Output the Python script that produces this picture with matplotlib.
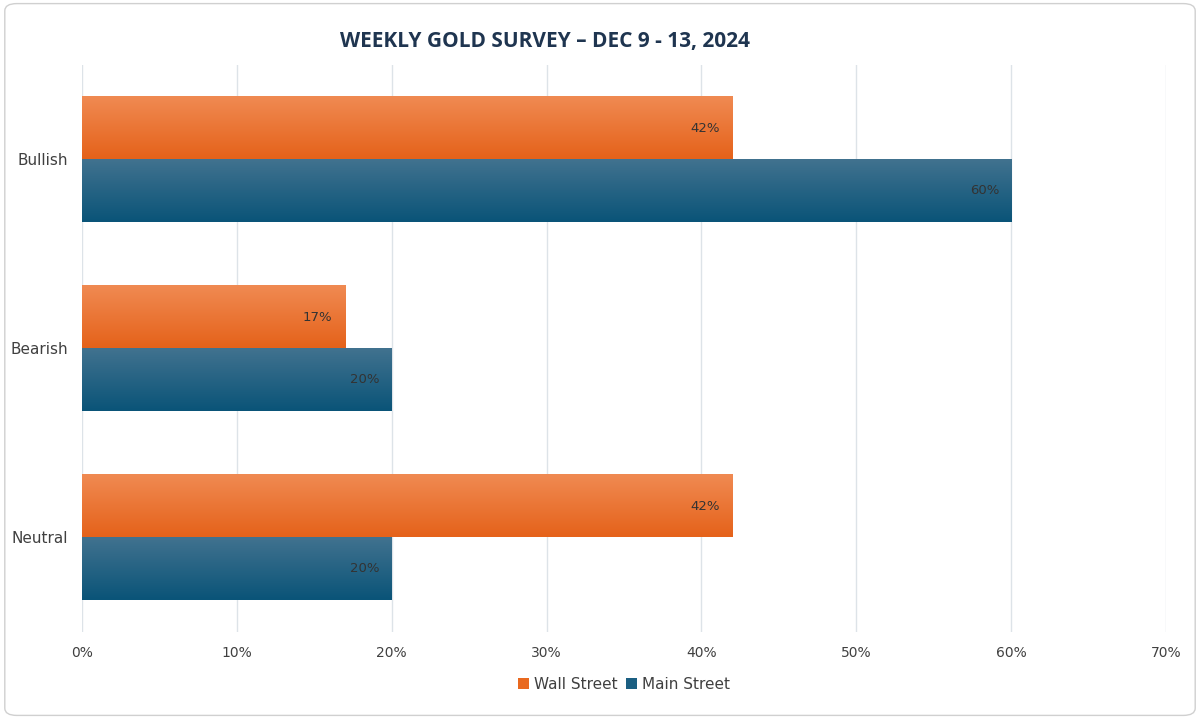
import numpy as np
import matplotlib.pyplot as plt
from matplotlib.colors import LinearSegmentedColormap
from matplotlib.patches import FancyBboxPatch

categories = ['Bullish', 'Bearish', 'Neutral']
wall_street = [42, 17, 42]
main_street = [60, 20, 20]
ticks = [0, 10, 20, 30, 40, 50, 60, 70]

fig = plt.figure(figsize=(12, 7.19), dpi=100)
ax = fig.add_axes([0.068, 0.121, 0.904, 0.789])

y = np.arange(len(categories))
h = 0.33
orange_cm = LinearSegmentedColormap.from_list('o', ['#f08a52', '#e5621a'])
blue_cm = LinearSegmentedColormap.from_list('b', ['#41728f', '#0a5478'])

def grad_bars(ypos, vals, cmap, label, color):
    bars = ax.barh(ypos, vals, height=h, color=color, label=label, zorder=2)
    grad = np.linspace(0, 1, 100).reshape(-1, 1)
    for b in bars:
        x0, y0 = b.get_x(), b.get_y()
        w, hh = b.get_width(), b.get_height()
        # y axis is inverted: top of bar is y0
        ax.imshow(grad, cmap=cmap, aspect='auto', zorder=3,
                  extent=[x0, x0 + w, y0 + hh, y0], origin='upper')
        ax.text(x0 + w - 0.8, y0 + hh / 2, f'{int(w)}%', ha='right', va='center',
                fontsize=9.5, color='#333333', zorder=4)
    return bars

grad_bars(y - h / 2, wall_street, orange_cm, 'Wall Street', '#e9691f')
grad_bars(y + h / 2, main_street, blue_cm, 'Main Street', '#1b5f82')

ax.set_xlim(0, 70)
ax.set_ylim(2.5, -0.5)
ax.set_xticks(ticks)
ax.set_xticklabels([f'{t}%' for t in ticks], fontsize=10, color='#404040')
ax.set_yticks(y)
ax.set_yticklabels(categories, fontsize=11, color='#404040')
ax.tick_params(length=0, pad=10)
ax.grid(axis='x', color='#dde3e8', linewidth=1, zorder=0)
for s in ax.spines.values():
    s.set_visible(False)

fig.text(0.454, 0.942, 'WEEKLY GOLD SURVEY – DEC 9 - 13, 2024', ha='center', va='center',
         fontsize=15, fontweight='bold', color='#1f3550', family='Open Sans')
ax.legend(loc='upper center', bbox_to_anchor=(0.5, -0.055), ncol=2, frameon=False,
          fontsize=11, handlelength=0.7, handleheight=0.7, handletextpad=0.3,
          columnspacing=0.6, labelcolor='#404040')

fig.patches.append(FancyBboxPatch((0.004, 0.005), 0.992, 0.99, boxstyle='round,pad=0,rounding_size=0.01',
                                  transform=fig.transFigure, fill=False, edgecolor='#d0d0d0', linewidth=1))
fig.savefig('out.png', dpi=100)
